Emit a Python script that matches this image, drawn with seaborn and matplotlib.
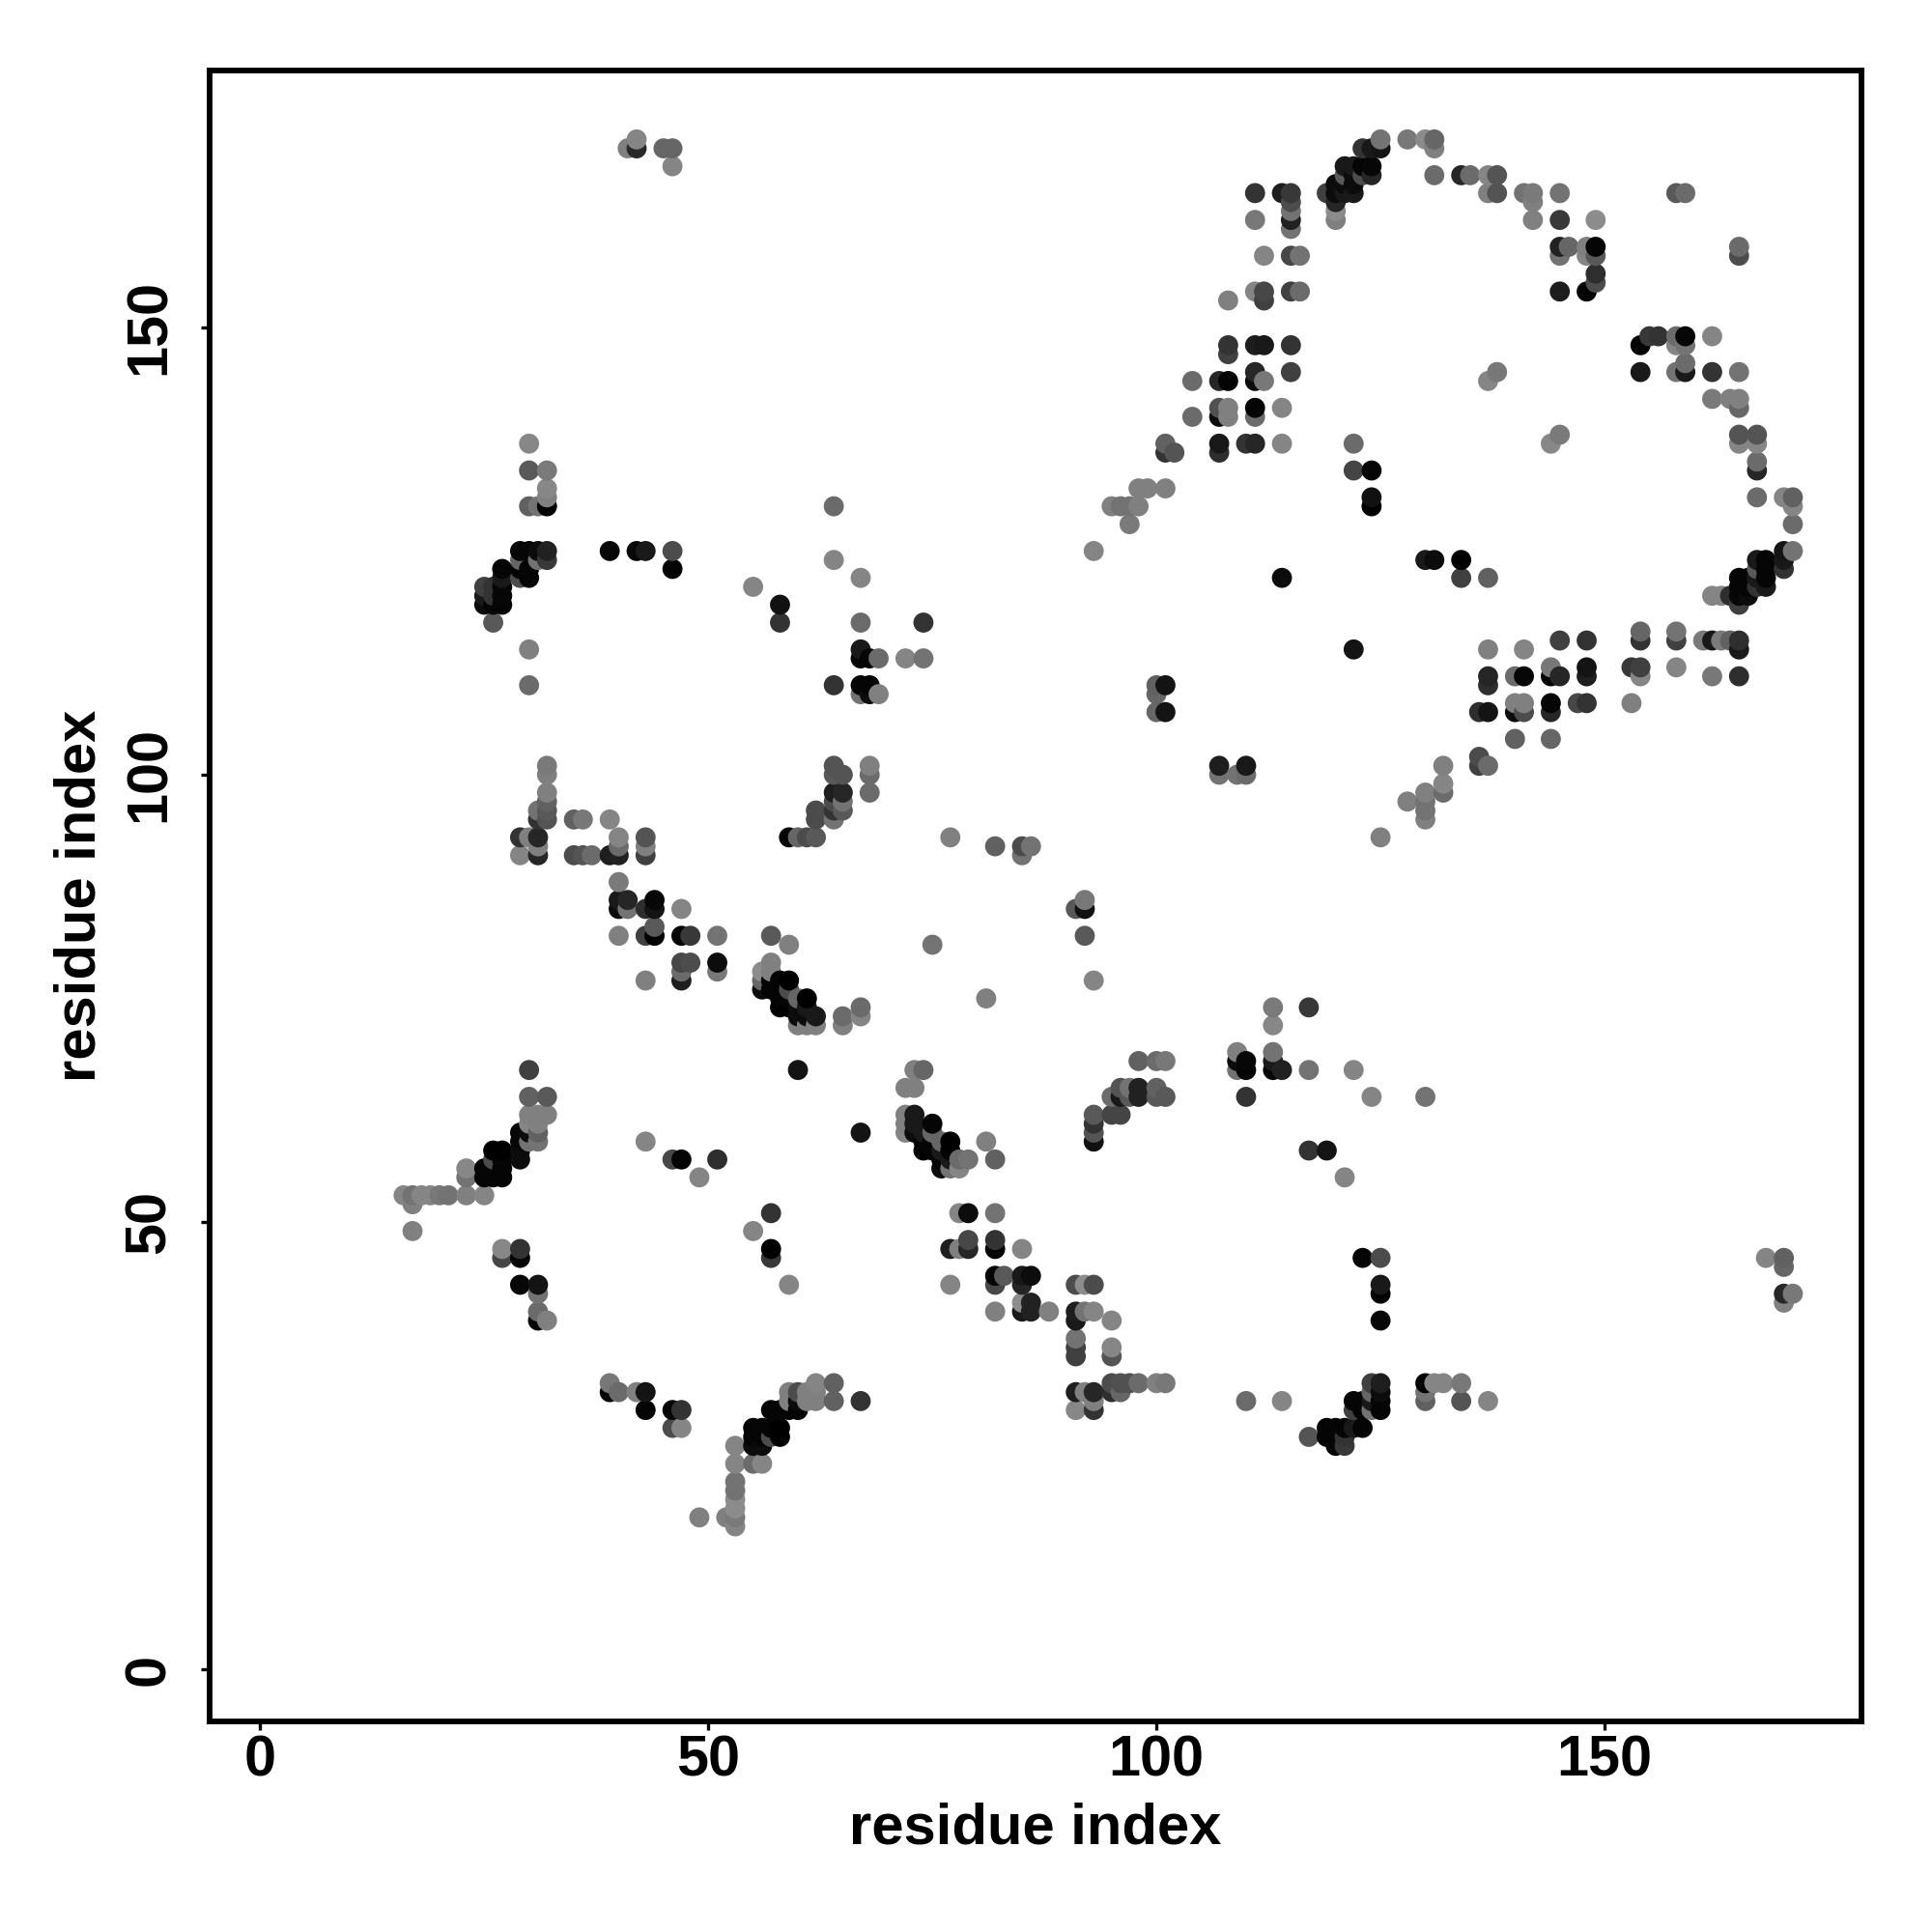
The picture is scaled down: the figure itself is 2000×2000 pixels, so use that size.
import matplotlib
matplotlib.use("Agg")
import matplotlib.pyplot as plt
import pandas as pd
import seaborn as sns

# contacts as (residue x, residue y, grey shade), by region of the map
top_left = [(41,170,.5),(42,170,.16),(42,171,.52),(45,170,.4),(46,170,.4),(46,168,.52),
 (30,137,.53),(30,134,.35),(32,134,.48),(32,132,.53),(32,131,.5),(30,130,.38),(31,130,.45),(32,130,0),
 (64,130,.42),(64,124,.52),(39,125,.03),(42,125,.03),(43,125,.1),(46,125,.3),(46,123,.02),
 (67,122,.52),(55,121,.52),(58,119,.07),(58,117,.2),(67,117,.42),(74,117,.2),(67,114,.1),(67,113,.02),
 (68,113,.02),(69,113,.42),(72,113,.52),(74,113,.45),(64,110,.2),(67,110,.02),(68,110,.02),(67,109,.45),
 (68,109,.05),(69,109,.5)]
cluster_25_32 = [(29,125,.03),(30,125,.03),(31,125,.05),(32,125,.13),(32,124,.22),(29,124,.4),(31,124,.45),
 (27,123,.02),(29,123,.02),(30,123,.02),(29,122,.3),(30,122,.02),(27,122,.1),(26,121,.2),(25,121,.25),
 (27,121,.03),(25,120,.1),(26,120,.2),(27,120,.03),(25,119,.05),(26,119,.02),(27,119,.02),(26,117,.35),
 (30,114,.5),(30,110,.42)]
mid_left = [(32,101,.48),(32,100,.5),(32,98,.5),(32,97,.38),(32,96,.35),(31,96,.45),(32,95,.33),(31,95,.2),
 (35,95,.38),(36,95,.47),(39,95,.52),(29,93,.2),(30,93,.5),(31,93,.15),(29,91,.52),(31,92,.5),(31,91,.15),
 (35,91,.3),(36,91,.33),(37,91,.42),(39,91,.12),(40,91,.13),(40,92,.42),(40,93,.52),(43,93,.33),(43,92,.5),
 (43,91,.25),(40,88,.48),(40,86,.1),(41,86,.15),(44,86,.03),(40,85,.05),(41,85,.45),(43,85,.18),(44,85,.08),
 (47,85,.52),(40,82,.5),(43,82,.25),(44,83,.35),(44,82,0),(47,82,.02),(48,82,.22),(51,82,.45),(57,82,.35),
 (59,81,.5),(75,81,.45),(47,79,.28),(48,79,.3),(51,79,.05),(47,78,.42),(51,78,.47),(43,77,.5),(47,77,.12)]
diagonal_60 = [(57,79,.5),(56,78,.55),(57,78,.5),(56,77,.4),(56,76,.05),(57,77,.02),(58,77,.02),(59,77,0),
 (57,76,.02),(58,76,.02),(58,75,.02),(59,76,.3),(59,75,.02),(60,75,.4),(61,75,0),(58,74,0),(59,74,0),
 (60,74,.05),(61,74,.1),(60,73,.05),(61,73,.05),(62,73,.1),(60,72,.5),(61,72,.5),(62,72,.5),(65,73,.42),
 (65,72,.5),(67,74,.42),(67,73,.52),(60,67,.08),(67,60,.08)]
diagonal_75 = [(72,65,.5),(73,65,.5),(73,67,.5),(74,67,.4),(72,62,.5),(72,61,.5),(72,60,.52),(73,62,.1),
 (73,61,.1),(73,60,.05),(74,60,.1),(75,61,.02),(75,60,.4),(74,59,.02),(75,59,.02),(76,59,.4),(77,59,0),
 (74,58,0),(75,58,.02),(76,58,.1),(77,58,.02),(76,57,.02),(77,57,.1),(78,57,.42),(79,57,.45),(76,56,.05),
 (77,56,.45),(78,56,.52),(81,59,.5),(82,57,.38),(78,51,.52),(79,51,.05),(82,51,.45),(79,48,.28),(82,48,.2),
 (79,47,.15),(77,47,.12),(78,47,.5),(82,47,.02),(85,47,.52),(82,44,.02),(83,44,.35),(85,44,.1),(86,44,.05),
 (82,43,.28),(85,43,.15),(77,43,.52),(85,41,.55),(86,41,.13),(85,40,.1),(86,40,.13),(82,40,.5),(88,40,.5)]
bottom_mid = [(91,43,.3),(92,43,.55),(93,43,.3),(91,40,.12),(92,40,.45),(93,40,.52),(91,39,.1),(95,39,.52),
 (91,37,.45),(91,36,.25),(91,35,.25),(95,36,.52),(95,35,.33),(91,31,.12),(92,31,.5),(93,31,.15),(93,30,.5),
 (93,29,.2),(91,29,.53),(95,32,.3),(96,32,.32),(97,32,.32),(98,32,.42),(100,32,.5),(101,32,.47),(95,31,.18),
 (96,31,.4),(110,30,.42),(114,30,.52)]
bottom_right = [(123,46,.02),(125,46,.3),(125,43,.1),(125,42,0),(125,39,.03),(124,32,.25),(125,32,.12),
 (124,31,.4),(125,31,.05),(122,30,.02),(123,30,.02),(124,30,.1),(125,30,.02),(122,29,.25),(123,29,.02),
 (124,29,.45),(125,29,.02),(119,27,.02),(120,27,.02),(121,27,.02),(122,27,.1),(123,27,.02),(119,26,.02),
 (120,26,.02),(121,26,.2),(117,26,.33),(120,25,.02),(121,25,.22),(130,32,0),(131,32,.52),(132,32,.52),
 (134,32,.47),(130,31,.45),(130,30,.38),(134,30,.33),(137,30,.52)]
left_strand = [(30,67,.25),(30,64,.38),(32,64,.35),(30,62,.5),(31,62,.5),(32,62,.5),(30,61,.52),(31,61,.5),
 (29,60,.03),(30,60,.05),(31,60,.38),(29,59,.03),(30,59,.45),(31,59,.45),(29,58,.05),(29,57,.05),(26,58,0),
 (27,58,0),(26,57,.3),(27,57,.02),(25,56,.02),(26,56,.02),(27,56,.02),(25,55,.02),(26,55,.02),(27,55,.02),
 (23,56,.53),(23,55,.45),(16,53,.52),(17,53,.45),(18,53,.52),(19,53,.52),(20,53,.47),(21,53,.45),(23,53,.5),
 (25,53,.52),(17,52,.5),(17,49,.5),(27,47,.53),(29,47,.2),(27,46,.27),(29,46,.02),(29,43,.03),(31,43,.08),
 (31,42,.45),(31,40,.42),(31,39,.02),(32,39,.5),(43,59,.52),(46,57,.28),(47,57,.02),(51,57,.18),(49,55,.52),
 (57,51,.2),(55,49,.52),(57,47,0),(57,46,.22),(59,43,.52),(39,32,.47),(39,31,.02),(40,31,.42),(42,31,.5),
 (43,31,.08),(43,29,.02),(46,29,.02),(47,29,.2),(46,27,.3),(47,27,.52)]
lower_strand = [(62,32,.52),(64,32,.38),(59,31,.5),(60,31,.3),(61,31,.5),(62,31,.5),(59,30,.5),(60,30,.05),
 (61,30,.5),(62,30,.5),(64,30,.38),(67,30,.2),(57,29,.02),(58,29,.02),(59,29,.02),(60,29,.02),(55,27,.02),
 (56,27,.02),(57,27,.02),(58,27,0),(55,26,.02),(56,26,.02),(57,26,.3),(58,26,0),(55,25,.05),(56,25,.05),
 (53,25,.52),(53,23,.52),(55,23,.42),(56,23,.52),(53,21,.45),(53,20,.45),(53,19,.55),(53,18,.55),(53,17,.48),
 (53,16,.52),(52,17,.5),(49,17,.5)]
mid_centre = [(91,85,.35),(92,85,.07),(92,86,.47),(92,82,.35),(93,77,.52),(81,75,.5),(113,74,.48),(117,74,.22),
 (113,72,.53),(109,69,.5),(113,69,.45),(110,68,.03),(109,68,.05),(113,68,.1),(109,67,.45),(110,67,.02),
 (113,67,.02),(114,67,.13),(117,67,.45),(122,67,.52),(110,64,.2),(124,64,.52),(130,64,.45),(98,68,.38),
 (100,68,.42),(101,68,.47),(96,65,.33),(97,65,.45),(98,65,.13),(100,65,.38),(95,64,.42),(96,64,.1),(97,64,.35),
 (98,64,.13),(100,64,.35),(101,64,.35),(95,62,.27),(96,62,.27),(93,62,.35),(93,61,.2),(93,60,.33),(93,59,.07),
 (117,58,.2),(119,58,.08),(121,55,.52),(77,93,.5),(82,92,.38),(85,92,.3),(86,92,.45),(85,91,.45)]
arc_rising = [(125,171,.45),(128,171,.47),(130,171,.55),(131,171,.4),(131,170,.5),(123,170,.2),(124,170,.1),
 (125,170,.08),(121,168,.1),(122,168,.1),(123,168,.02),(124,168,.03),(122,167,.05),(123,167,.3),(124,167,.15),
 (121,167,.35),(120,166,.05),(121,166,.05),(122,166,.05),(119,165,.25),(120,165,.05),(121,165,.1),(122,165,.1),
 (120,164,.15),(120,163,.55),(120,162,.5),(131,167,.42),(111,165,.2),(114,165,.12),(115,165,.22),(115,164,.3),
 (115,163,.45),(115,162,.13),(115,161,.45),(111,162,.47),(112,158,.52),(115,158,.28),(116,158,.45),(111,154,.52),
 (112,154,.28),(112,153,.25),(115,154,.25),(116,154,.42),(108,153,.5),(108,148,.2),(108,147,.25),(111,148,.12),
 (112,148,.1),(115,148,.2),(111,145,.15),(111,144,.05),(112,144,.47),(115,145,.25),(104,144,.42),(107,144,.15),
 (108,144,.02),(107,141,.32),(108,141,.5),(107,140,.05),(108,140,.5),(111,141,.02),(111,140,.42),(114,141,.52),
 (104,140,.42),(107,137,.1),(107,136,.18),(110,137,.2),(111,137,.15),(114,137,.52),(101,137,.38),(101,136,.2),
 (102,136,.33),(122,137,.42),(122,134,.27),(124,134,.02),(124,131,.07),(124,130,0),(98,132,.5),(99,132,.5),
 (101,132,.5),(95,130,.5),(96,130,.45),(97,130,.45),(98,130,.5),(97,128,.48),(93,125,.52)]
arc_falling = [(134,167,.15),(135,167,.42),(137,167,.52),(138,167,.33),(137,165,.5),(138,165,.33),(141,165,.45),
 (142,165,.48),(142,164,.5),(145,165,.45),(142,162,.5),(145,162,.22),(149,162,.55),(145,159,.13),(146,159,.4),
 (145,158,.45),(148,159,.5),(149,159,.02),(148,158,.52),(149,158,.35),(149,156,.18),(149,155,.3),(145,154,.12),
 (148,154,.02),(158,165,.35),(159,165,.42),(165,159,.42),(165,158,.3),(154,148,.02),(155,149,.22),(156,149,.2),
 (158,149,.42),(159,149,.03),(158,148,.52),(159,148,.45),(162,149,.52),(154,145,.1),(158,145,.45),(159,146,.42),
 (159,145,.1),(162,145,.2),(165,145,.45),(138,145,.47),(137,144,.52),(162,142,.48),(164,142,.5),(165,142,.5),
 (165,141,.4),(145,138,.48),(144,137,.53),(165,138,.33),(167,138,.33),(165,137,.52),(167,137,.52),(167,135,.42),
 (167,134,.15),(167,131,.42),(170,131,.52),(171,131,.38)]
right_loop = [(171,130,.52),(171,128,.42),(170,125,.08),(171,125,.45),(170,124,.1),(170,123,.2),(167,124,.1),
 (168,124,.02),(167,123,.35),(168,123,.02),(168,122,.02),(165,122,.02),(166,122,.02),(167,122,.1),(165,121,.02),
 (166,121,.02),(167,121,.2),(168,121,.1),(162,120,.52),(163,120,.52),(164,120,.18),(165,120,.03),(166,120,.05),
 (165,119,.25),(130,124,.1),(131,124,.05),(134,124,0),(134,122,.25),(137,122,.38),(114,122,.05),(122,114,.08)]
strand_108 = [(154,116,.4),(154,115,.2),(158,116,.45),(158,115,.25),(161,115,.48),(162,115,.1),(163,115,.48),
 (164,115,.38),(165,115,.18),(165,114,.1),(145,115,.25),(148,115,.2),(137,114,.5),(141,114,.52),(144,112,.47),
 (148,112,.08),(144,111,.02),(145,111,.15),(148,111,.12),(153,112,.22),(154,112,.25),(154,111,.52),(158,112,.52),
 (162,111,.47),(165,111,.18),(137,111,.15),(137,110,.18),(140,111,.42),(141,111,.03),(140,108,.5),(141,108,.5),
 (144,108,.02),(147,108,.28),(148,108,.2),(153,108,.5),(136,107,.18),(137,107,.08),(140,107,.05),(141,107,.3),
 (144,107,.15),(140,104,.38),(144,104,.4),(136,102,.3),(136,101,.25),(137,101,.42),(132,101,.5),(132,99,.52),
 (132,98,.42),(128,97,.5),(130,98,.5),(130,97,.45),(130,96,.45),(130,95,.5),(125,93,.5)]
centre_small = [(100,110,.38),(101,110,.08),(100,109,.4),(100,107,.4),(101,107,.08),(107,101,.12),(110,101,.1),
 (107,100,.45),(109,100,.45),(110,100,.42)]
strand_64 = [(59,93,.02),(60,93,.4),(61,93,.3),(62,93,.35),(62,96,.3),(62,95,.3),(64,101,.33),(65,100,.33),
 (64,100,.35),(68,101,.5),(68,100,.42),(68,98,.42),(64,98,.12),(65,98,.15),(64,97,.3),(65,97,.45),(64,96,.2),
 (65,96,.35),(64,95,.45)]
far_right = [(168,46,.52),(170,46,.38),(170,45,.4),(170,42,.16),(171,42,.47),(170,41,.5)]

contacts = pd.DataFrame(
    top_left + cluster_25_32 + mid_left + diagonal_60 + diagonal_75 + bottom_mid + bottom_right
    + left_strand + lower_strand + mid_centre + arc_rising + arc_falling + right_loop + strand_108
    + centre_small + strand_64 + far_right,
    columns=["x", "y", "shade"],
).drop_duplicates(["x", "y"]).sort_values(["x", "y"])

sns.set_theme(style="white")
plt.rcParams["font.family"] = ["Liberation Sans", "DejaVu Sans"]
plt.rcParams["font.weight"] = "bold"

fig = plt.figure(figsize=(10, 10), dpi=200)
ax = fig.add_axes([0.1085, 0.109, 0.855, 0.8545])
sns.scatterplot(data=contacts, x="x", y="y", hue="shade", palette="gray", hue_norm=(0, 1),
                legend=False, s=56, linewidth=0, ax=ax)
ax.set_xlim(-5.64, 178.66)
ax.set_ylim(-5.8, 178.7)
ax.set_xticks([0, 50, 100, 150])
ax.set_yticks([0, 50, 100, 150])
ax.tick_params(axis="both", direction="out", length=3.2, width=1.2, color="black",
               labelsize=21.4, labelcolor="black", bottom=True, left=True)
ax.tick_params(axis="x", pad=1.6)
ax.tick_params(axis="y", pad=9.3)
for t in ax.get_yticklabels():
    t.set_rotation(90)
    t.set_va("center")
for s in ax.spines.values():
    s.set_visible(True)
    s.set_linewidth(2.1)
    s.set_color("black")
ax.set_xlabel("residue index", fontsize=21.5, fontweight="bold", color="black", labelpad=5.5)
ax.set_ylabel("residue index", fontsize=21.5, fontweight="bold", color="black", labelpad=6)
fig.savefig("out.png", dpi=200, facecolor="white")
